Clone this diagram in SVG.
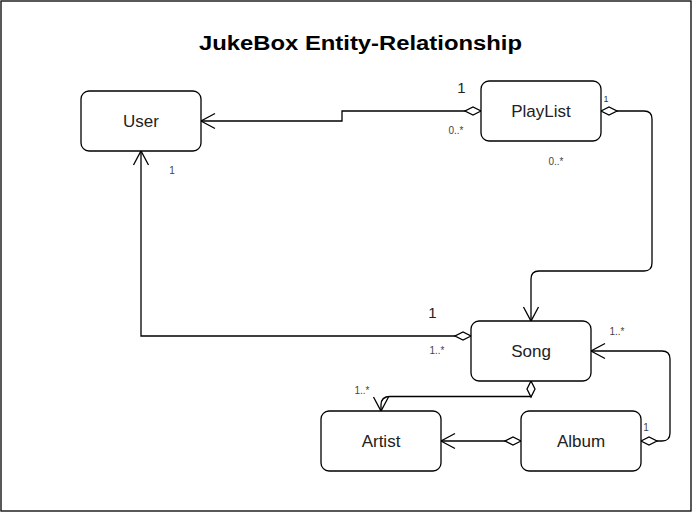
<svg xmlns="http://www.w3.org/2000/svg" width="693" height="513" viewBox="0 0 693 513">
<style>
.node rect{fill:#fff;stroke:#000;stroke-width:1.3}
.node text{font-family:"Liberation Sans",Arial,sans-serif;font-size:17px;fill:#222;text-anchor:middle}
.conn path{fill:none;stroke:#000;stroke-width:1.3}
.lbl{font-family:"Liberation Sans",Arial,sans-serif;font-size:10px;fill:#444;text-anchor:middle}
.big{font-family:"Liberation Sans",Arial,sans-serif;font-size:15px;fill:#222;text-anchor:middle}
.sm{font-family:"Liberation Sans",Arial,sans-serif;font-size:9px;fill:#333;text-anchor:middle}
</style>
<defs>
<marker id="dia" markerUnits="userSpaceOnUse" orient="auto" refX="0" refY="0" overflow="visible" markerWidth="16" markerHeight="8">
<path d="M0,0 L8,-4 L16,0 L8,4 Z" fill="#fff" stroke="#000" stroke-width="1.3"/>
</marker>
<marker id="arr" markerUnits="userSpaceOnUse" orient="auto" refX="0" refY="0" overflow="visible" markerWidth="16" markerHeight="16">
<path d="M-14,-7.5 L0,0 L-14,7.5" fill="none" stroke="#000" stroke-width="1.3"/>
</marker>
</defs>
<rect x="1" y="1" width="690" height="510" fill="#fff" stroke="#000" stroke-width="1.3"/>
<text x="360.5" y="49.5" font-family="'Liberation Sans',Arial,sans-serif" font-size="20" font-weight="bold" text-anchor="middle" textLength="323" lengthAdjust="spacingAndGlyphs" fill="#000">JukeBox Entity-Relationship</text>
<g class="conn" id="connectors">
<path d="M481,111 L342,111 L342,121 L201,121" marker-start="url(#dia)" marker-end="url(#arr)"/>
<path d="M601,111 L644,111 Q652,111 652,119 L652,263 Q652,271 644,271 L539,271 Q531,271 531,279 L531,321" marker-start="url(#dia)" marker-end="url(#arr)"/>
<path d="M471,336 L141,336 L141,151" marker-start="url(#dia)" marker-end="url(#arr)"/>
<path d="M531,381 L531,396.5 L390,396.5 Q381,396.5 381,405 L381,411" marker-start="url(#dia)" marker-end="url(#arr)"/>
<path d="M521,441 L441,441" marker-start="url(#dia)" marker-end="url(#arr)"/>
<path d="M641,441 L662,441 Q670,441 670,433 L670,359 Q670,351 662,351 L591,351" marker-start="url(#dia)" marker-end="url(#arr)"/>
</g>
<g id="labels">
<text class="big" x="461.5" y="93">1</text>
<text class="lbl" x="456" y="134">0..*</text>
<text class="sm" x="606" y="102">1</text>
<text class="lbl" x="556" y="165">0..*</text>
<text class="lbl" x="172" y="174">1</text>
<text class="big" x="432.5" y="318">1</text>
<text class="lbl" x="437" y="354">1..*</text>
<text class="lbl" x="539" y="375">1</text>
<text class="lbl" x="362" y="394">1..*</text>
<text class="lbl" x="617" y="335">1..*</text>
<text class="sm" x="526.5" y="438">1</text>
<text class="lbl" x="646" y="431">1</text>
</g>
<g class="node" id="user"><rect x="81" y="91" width="120" height="60" rx="8"/><text x="141" y="127">User</text></g>
<g class="node" id="playlist"><rect x="481" y="81" width="120" height="60" rx="8"/><text x="541" y="117">PlayList</text></g>
<g class="node" id="song"><rect x="471" y="321" width="120" height="60" rx="8"/><text x="531" y="357">Song</text></g>
<g class="node" id="artist"><rect x="321" y="411" width="120" height="60" rx="8"/><text x="381" y="447">Artist</text></g>
<g class="node" id="album"><rect x="521" y="411" width="120" height="60" rx="8"/><text x="581" y="447">Album</text></g>
</svg>
